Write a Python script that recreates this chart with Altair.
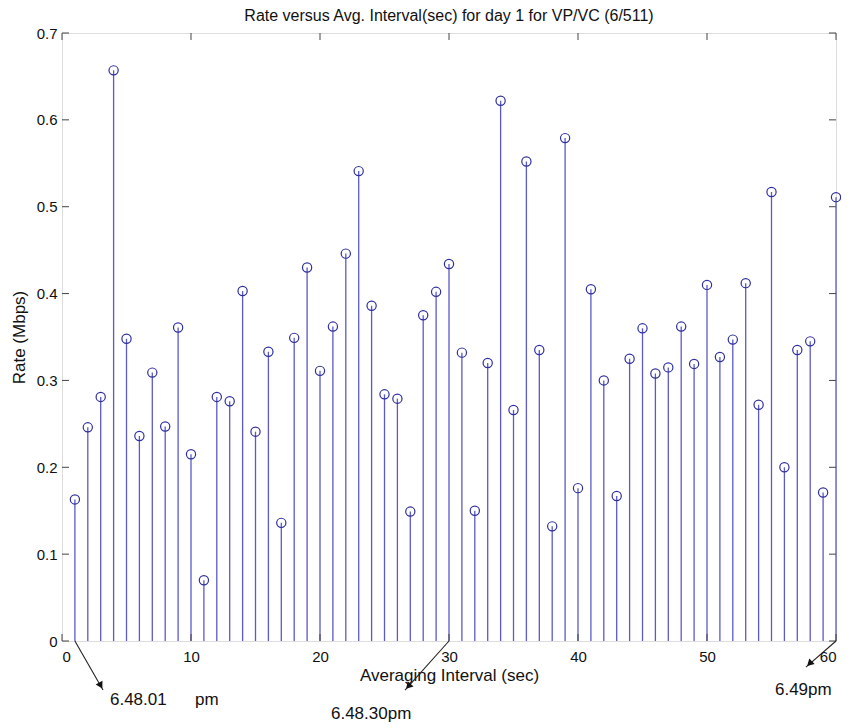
import altair as alt
import pandas as pd

# ---- data ----
interval = list(range(1, 61))
rate = [0.163, 0.246, 0.281, 0.657, 0.348, 0.236, 0.309, 0.247, 0.361, 0.215,
        0.070, 0.281, 0.276, 0.403, 0.241, 0.333, 0.136, 0.349, 0.430, 0.311,
        0.362, 0.446, 0.541, 0.386, 0.284, 0.279, 0.149, 0.375, 0.402, 0.434,
        0.332, 0.150, 0.320, 0.622, 0.266, 0.552, 0.335, 0.132, 0.579, 0.176,
        0.405, 0.300, 0.167, 0.325, 0.360, 0.308, 0.315, 0.362, 0.319, 0.410,
        0.327, 0.347, 0.412, 0.272, 0.517, 0.200, 0.335, 0.345, 0.171, 0.511]

x_ticks = [0, 10, 20, 30, 40, 50, 60]
y_ticks = [0, 0.1, 0.2, 0.3, 0.4, 0.5, 0.6, 0.7]

# annotations (arrow start / tip, arrowhead angle, label)
arrow_x0 = [1.0, 30.0, 60.0]
arrow_y0 = [0.0, 0.0, 0.0]
arrow_x1 = [3.18, 26.59, 57.67]
arrow_y1 = [-0.0565, -0.0565, -0.030]
head_x = [3.0, 26.85, 57.95]
head_y = [-0.0514, -0.0522, -0.026]
head_angle = [151, 222, 226]

note_text = ["6.48.01", "pm", "6.48.30pm", "6.49pm"]
note_x = [3.72, 10.31, 20.85, 55.27]
note_y = [-0.068, -0.068, -0.0845, -0.0565]

TITLE = "Rate versus Avg. Interval(sec) for day 1 for VP/VC (6/511)"
FONT = "Liberation Sans"
W, H = 774, 608

df = pd.DataFrame({"x": interval, "rate": rate})
arrows = pd.DataFrame({"x0": arrow_x0, "y0": arrow_y0, "x1": arrow_x1, "y1": arrow_y1,
                       "hx": head_x, "hy": head_y, "ang": head_angle})
notes = pd.DataFrame({"t": note_text, "x": note_x, "y": note_y})
xt = pd.DataFrame({"v": x_ticks})
yt = pd.DataFrame({"v": y_ticks})

xs = alt.Scale(domain=[0, 60], nice=False, zero=False)
ys = alt.Scale(domain=[0, 0.7], nice=False)

X = alt.X("x:Q", scale=xs, axis=alt.Axis(
    title="Averaging Interval (sec)", values=x_ticks, ticks=False, domain=False, grid=False,
    labelFontSize=15, labelPadding=8, labelColor="#111", labelFont=FONT,
    titleFontSize=17, titleFontWeight="normal", titleFont=FONT, titleColor="#111", titlePadding=3))
Y = alt.Y("rate:Q", scale=ys, axis=alt.Axis(
    title="Rate (Mbps)", values=y_ticks, ticks=False, domain=False, grid=False,
    labelFontSize=15, labelPadding=5, labelColor="#111", labelFont=FONT, format=".1~f",
    titleFontSize=17, titleFontWeight="normal", titleFont=FONT, titleColor="#111", titlePadding=8))

base = alt.Chart(df)
stems = base.mark_rule(color="#5a5ac8", strokeWidth=1.3).encode(x=X, y=Y, y2=alt.datum(0))
dots = base.mark_point(shape="circle", filled=False, size=85, strokeWidth=1.2,
                       color="#2e2ea0", opacity=1).encode(x="x:Q", y="rate:Q")

tick_col = "#444"
tb = alt.Chart(xt).mark_rule(color=tick_col).encode(
    x=alt.X("v:Q", scale=xs), y=alt.value(H), y2=alt.value(H - 7))
tt = alt.Chart(xt).mark_rule(color=tick_col).encode(
    x=alt.X("v:Q", scale=xs), y=alt.value(0), y2=alt.value(7))
tl = alt.Chart(yt).mark_rule(color=tick_col).encode(
    y=alt.Y("v:Q", scale=ys), x=alt.value(0), x2=alt.value(7))
tr = alt.Chart(yt).mark_rule(color=tick_col).encode(
    y=alt.Y("v:Q", scale=ys), x=alt.value(W), x2=alt.value(W - 7))

ar = alt.Chart(arrows).mark_rule(color="#222", strokeWidth=1.1).encode(
    x=alt.X("x0:Q", scale=xs), y=alt.Y("y0:Q", scale=ys),
    x2="x1:Q", y2="y1:Q")
heads = alt.Chart(arrows).mark_point(shape="triangle-up", filled=True, size=60,
                                     color="#111", opacity=1).encode(
    x=alt.X("hx:Q", scale=xs), y=alt.Y("hy:Q", scale=ys), angle=alt.Angle("ang:Q", scale=None))
txt = alt.Chart(notes).mark_text(align="left", baseline="middle", fontSize=17,
                                 font=FONT, color="#111").encode(
    x=alt.X("x:Q", scale=xs), y=alt.Y("y:Q", scale=ys), text="t:N")

chart = alt.layer(stems, dots, tb, tt, tl, tr, ar, heads, txt).properties(
    width=W, height=H,
    title=alt.TitleParams(TITLE, fontSize=16, fontWeight="normal", font=FONT,
                          color="#111", offset=2),
    autosize=alt.AutoSizeParams(type="none"),
    padding={"left": 54, "top": 25, "right": 5, "bottom": 84},
).configure_view(stroke="#444", strokeWidth=1).configure(background="white")

chart.save("out.html", embed_options={"renderer": "svg", "actions": False})
